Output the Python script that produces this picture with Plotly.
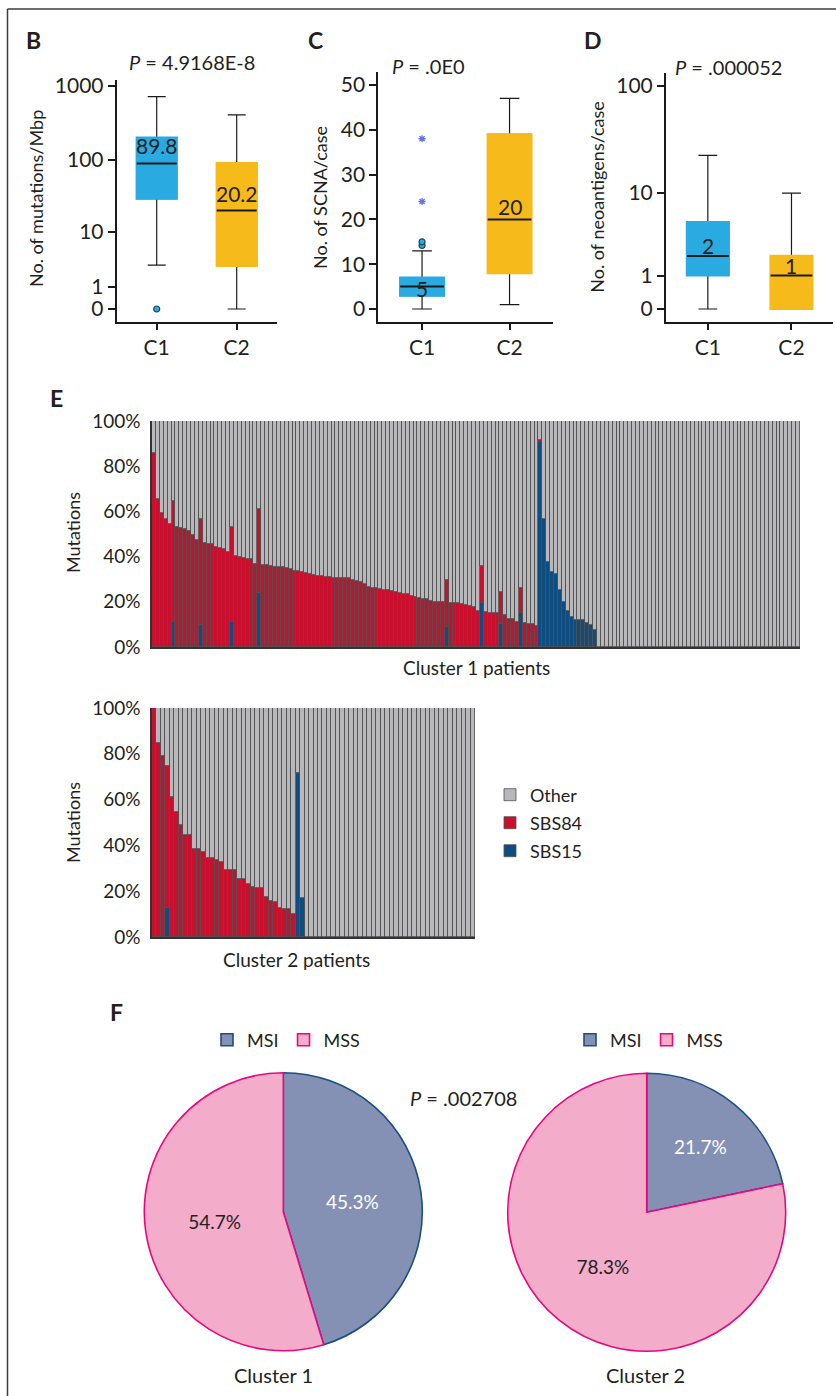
import numpy as np
import plotly.graph_objects as go

W, H = 836, 1396
FONT = "Lato"
INK = "#231f20"


def fx(p):
    return p / W


def fy(p):
    return 1 - p / H


def tf(v):
    return np.log10(np.asarray(v, dtype=float) + 1)


# ---------------- data ----------------
groups = ["C1", "C2"]
box_colors = ["#29abe2", "#f6bb1a"]

# B: mutations / Mbp
tmb_q1 = [29.5, 2.8]
tmb_median = [89.8, 20.2]
tmb_q3 = [201, 91]
tmb_low = [2.9, 0]
tmb_high = [719, 407]
tmb_outliers_c1 = [0]
tmb_ticks = [0, 1, 10, 100, 1000]

# C: SCNA / case
scna_q1 = [3, 8]
scna_median = [5, 20]
scna_q3 = [7, 39]
scna_low = [0, 1]
scna_high = [13, 47]
scna_out_circle_c1 = [14.2, 15.0]
scna_out_star_c1 = [24, 38]
scna_ticks = [0, 10, 20, 30, 40, 50]

# D: neoantigens / case
neo_q1 = [1, 0]
neo_median = [2, 1]
neo_q3 = [5.05, 2.0]
neo_low = [0, 0]
neo_high = [23, 10]
neo_ticks = [0, 1, 10, 100]

# E: signature fractions, cluster 1 (166 patients)
sbs84_c1 = [
    0.857, 0.653, 0.592, 0.565, 0.543, 0.537, 0.530, 0.528, 0.521, 0.515,
    0.496, 0.473, 0.472, 0.462, 0.457, 0.456, 0.444, 0.440, 0.435, 0.419,
    0.418, 0.403, 0.400, 0.392, 0.389, 0.388, 0.366, 0.371, 0.361, 0.361,
    0.360, 0.355, 0.352, 0.352, 0.351, 0.343, 0.338, 0.336, 0.330, 0.329,
    0.323, 0.318, 0.316, 0.316, 0.310, 0.310, 0.307, 0.304, 0.304, 0.304,
    0.304, 0.295, 0.293, 0.288, 0.280, 0.267, 0.263, 0.260, 0.255, 0.252,
    0.251, 0.248, 0.245, 0.237, 0.234, 0.233, 0.225, 0.220, 0.217, 0.214,
    0.212, 0.203, 0.200, 0.199, 0.199, 0.208, 0.195, 0.195, 0.193, 0.189,
    0.184, 0.181, 0.178, 0.158, 0.165, 0.156, 0.152, 0.152, 0.149, 0.145,
    0.140, 0.125, 0.125, 0.109, 0.111, 0.108, 0.103, 0.103, 0.094, 0.010,
] + [0.0] * 66
sbs15_c1 = (
    [0.0] * 5 + [0.109] + [0.0] * 6 + [0.096] + [0.0] * 7 + [0.112]
    + [0.0] * 6 + [0.240] + [0.0] * 47 + [0.087] + [0.0] * 8 + [0.193]
    + [0.0] * 4 + [0.100] + [0.0] * 4 + [0.149] + [0.0] * 4
    + [0.905, 0.566, 0.375, 0.332, 0.322, 0.252, 0.201, 0.159, 0.131,
       0.119, 0.118, 0.118, 0.105, 0.096, 0.075]
    + [0.0] * 52
)

# cluster 2 (72 patients)
sbs84_c2 = [
    1.000, 0.846, 0.792, 0.622, 0.613, 0.544, 0.489, 0.444, 0.444, 0.384,
    0.384, 0.373, 0.345, 0.345, 0.336, 0.326, 0.291, 0.291, 0.291, 0.252,
    0.252, 0.230, 0.220, 0.216, 0.212, 0.176, 0.157, 0.155, 0.128, 0.124,
    0.121, 0.099,
] + [0.0] * 40
sbs15_c2 = [0.0] * 3 + [0.125] + [0.0] * 28 + [0.718, 0.169] + [0.0] * 38

sig_names = ["SBS15", "SBS84", "Other"]
sig_colors = {"SBS15": "#0f4c7f", "SBS84": "#c8102e", "Other": "#b8b8bb"}

# F: MSI status
msi_labels = ["MSI", "MSS"]
msi_c1 = [45.3, 54.7]
msi_c2 = [21.7, 78.3]
msi_fill = ["#8491b4", "#f4accb"]
msi_line = ["#1a4f80", "#e6087f"]

# ---------------- figure ----------------
fig = go.Figure()
AX = dict(showgrid=False, zeroline=False, showline=True, linecolor="#1a1a1a",
          linewidth=2, ticks="outside", tickcolor="#1a1a1a", tickwidth=1.5,
          automargin=False, tickfont=dict(size=21, color=INK, family=FONT))


def add_boxes(xa, ya, q1, med, q3, lo, hi, t):
    for i, g in enumerate(groups):
        common = dict(x=[g], orientation="v", width=0.5, xaxis=xa, yaxis=ya,
                      showlegend=False, hoverinfo="skip", boxpoints=False)
        # whiskers
        fig.add_trace(go.Box(q1=[t(q1[i])], median=[t(med[i])], q3=[t(q3[i])],
                             lowerfence=[t(lo[i])], upperfence=[t(hi[i])],
                             whiskerwidth=0.45, fillcolor="rgba(0,0,0,0)",
                             line=dict(color="#1a1a1a", width=1.2), **common))
        # body
        fig.add_trace(go.Box(q1=[t(q1[i])], median=[t(q1[i])], q3=[t(q3[i])],
                             lowerfence=[t(q1[i])], upperfence=[t(q3[i])],
                             whiskerwidth=0, fillcolor=box_colors[i],
                             line=dict(color=box_colors[i], width=2.2), **common))
        # median line
        fig.add_trace(go.Box(q1=[t(med[i])], median=[t(med[i])], q3=[t(med[i])],
                             lowerfence=[t(med[i])], upperfence=[t(med[i])],
                             whiskerwidth=0, fillcolor="rgba(0,0,0,0)",
                             line=dict(color="#1a1a1a", width=2), **common))


ident = lambda v: float(v)
logt = lambda v: float(tf(v))

add_boxes("x", "y", tmb_q1, tmb_median, tmb_q3, tmb_low, tmb_high, logt)
add_boxes("x2", "y2", scna_q1, scna_median, scna_q3, scna_low, scna_high, ident)
add_boxes("x3", "y3", neo_q1, neo_median, neo_q3, neo_low, neo_high, logt)

# outliers
fig.add_trace(go.Scatter(x=["C1"] * len(tmb_outliers_c1), y=tf(tmb_outliers_c1), mode="markers",
                         marker=dict(symbol="circle", size=6, color="#29abe2",
                                     line=dict(color="#1f3f5a", width=1.2)),
                         xaxis="x", yaxis="y", showlegend=False, hoverinfo="skip"))
fig.add_trace(go.Scatter(x=["C1"] * len(scna_out_circle_c1), y=scna_out_circle_c1, mode="markers",
                         marker=dict(symbol="circle", size=6, color="#29abe2",
                                     line=dict(color="#1f3f5a", width=1.2)),
                         xaxis="x2", yaxis="y2", showlegend=False, hoverinfo="skip"))
fig.add_trace(go.Scatter(x=["C1"] * len(scna_out_star_c1), y=scna_out_star_c1, mode="markers",
                         marker=dict(symbol="asterisk-open", size=6,
                                     line=dict(color="#29abe2", width=1.3)),
                         xaxis="x2", yaxis="y2", showlegend=False, hoverinfo="skip"))

# E: stacked bars
clusters = [
    ("x4", "y4", sbs15_c1, sbs84_c1, False),
    ("x5", "y5", sbs15_c2, sbs84_c2, True),
]
leg_for = {"Other": "legend", "SBS84": "legend4", "SBS15": "legend5"}
for xa, ya, s15, s84, show in clusters:
    s15 = np.array(s15)
    s84 = np.array(s84)
    other = 1 - s15 - s84
    pats = np.arange(1, len(s15) + 1)
    for name, vals in zip(sig_names, [s15, s84, other]):
        fig.add_trace(go.Bar(x=pats, y=vals, name=name, xaxis=xa, yaxis=ya,
                             marker=dict(color=sig_colors[name],
                                         line=dict(color="#505050", width=0.8)),
                             showlegend=show, legend=leg_for[name], hoverinfo="skip"))

# F: pies
pie_specs = [
    (msi_c1, [144.3, 422.3], [1072.7, 1350.7], "legend2", "cluster1"),
    (msi_c2, [507.7, 785.7], [1073.3, 1351.3], "legend3", "cluster2"),
]
for vals, xd, yd, leg, grp in pie_specs:
    fig.add_trace(go.Pie(labels=msi_labels, values=vals, sort=False,
                         direction="clockwise", rotation=0,
                         marker=dict(colors=msi_fill, line=dict(color=msi_line, width=1.6)),
                         textinfo="percent", texttemplate="%{percent:.1%}",
                         textposition="inside", insidetextorientation="horizontal",
                         textfont=dict(size=19, color=["white", INK], family=FONT),
                         domain=dict(x=[fx(xd[0]), fx(xd[1])], y=[fy(yd[1]), fy(yd[0])]),
                         legend=leg, legendgroup=grp, hoverinfo="skip"))

# ---------------- axes ----------------
cat = dict(type="category", categoryorder="array", categoryarray=groups, range=[-0.5, 1.5], ticklen=6)
fig.update_layout(
    xaxis=dict(AX, **cat, domain=[fx(116.7), fx(276.7)], anchor="y"),
    yaxis=dict(AX, domain=[fy(321.7), fy(80)], anchor="x", range=[-0.171, 3.081],
               tickvals=tf(tmb_ticks), ticktext=[str(v) for v in tmb_ticks], ticklen=7),
    xaxis2=dict(AX, **cat, domain=[fx(378.3), fx(553.3)], anchor="y2"),
    yaxis2=dict(AX, domain=[fy(321.7), fy(71.7)], anchor="x2", range=[-2.83, 52.97],
                tickvals=scna_ticks, ticklen=7),
    xaxis3=dict(AX, **cat, domain=[fx(666), fx(833.3)], anchor="y3"),
    yaxis3=dict(AX, domain=[fy(321.7), fy(73.3)], anchor="x3", range=[-0.114, 2.118],
                tickvals=tf(neo_ticks), ticktext=[str(v) for v in neo_ticks], ticklen=7),
)
EAX_X = dict(showgrid=False, zeroline=False, showline=True, linecolor="#333333", linewidth=1.5,
             showticklabels=False, ticks="", automargin=False)
EAX_Y = dict(showgrid=False, zeroline=False, showline=True, linecolor="#333333", linewidth=1.5,
             range=[0, 1], tickvals=[0, 0.2, 0.4, 0.6, 0.8, 1.0], tickformat=".0%",
             ticks="outside", ticklen=6, tickcolor="rgba(0,0,0,0)", automargin=False,
             tickfont=dict(size=19, color=INK, family=FONT))
fig.update_layout(
    xaxis4=dict(EAX_X, domain=[fx(152), fx(800)], anchor="y4", range=[0.5, len(sbs84_c1) + 0.5]),
    yaxis4=dict(EAX_Y, domain=[fy(647), fy(421)], anchor="x4"),
    xaxis5=dict(EAX_X, domain=[fx(152), fx(475)], anchor="y5", range=[0.5, len(sbs84_c2) + 0.5]),
    yaxis5=dict(EAX_Y, domain=[fy(937), fy(708)], anchor="x5"),
    barmode="stack", bargap=0, boxmode="overlay",
)

# legends
leg_common = dict(bgcolor="rgba(0,0,0,0)", font=dict(size=18, color=INK, family=FONT),
                  xanchor="left", yanchor="middle", itemclick=False, itemdoubleclick=False)
fig.update_layout(
    legend=dict(leg_common, x=fx(490), y=fy(795)),
    legend4=dict(leg_common, x=fx(490), y=fy(823)),
    legend5=dict(leg_common, x=fx(490), y=fy(851)),
    legend2=dict(leg_common, orientation="h", traceorder="normal", x=fx(207), y=fy(1040)),
    legend3=dict(leg_common, orientation="h", traceorder="normal", x=fx(570), y=fy(1040)),
)

# ---------------- annotations ----------------
ann = []


def text(x, y, s, size=18, angle=0, **kw):
    ann.append(dict(x=fx(x), y=fy(y), xref="paper", yref="paper", text=s, showarrow=False,
                    textangle=angle, xanchor="center", yanchor="middle",
                    font=dict(size=size, color=INK, family=FONT), **kw))


for lab, (x, y) in {"B": (33, 40), "C": (315, 40), "D": (593, 40), "E": (56, 398), "F": (116, 1012)}.items():
    text(x, y, f"<b>{lab}</b>", size=23)

text(191.5, 61.7, "<i>P</i> = 4.9168E-8", size=20)
text(428.3, 65.7, "<i>P</i> = .0E0", size=20)
text(728.3, 66.7, "<i>P</i> = .000052", size=20)
text(463.3, 1098, "<i>P</i> = .002708", size=20)

text(36, 199, "No. of mutations/Mbp", angle=-90)
text(320, 198, "No. of SCNA/case", angle=-90)
text(596.7, 197, "No. of neoantigens/case", angle=-90)
text(73, 533, "Mutations", angle=-90)
text(73, 823, "Mutations", angle=-90)
text(476, 667, "Cluster 1 patients", size=19)
text(296, 960, "Cluster 2 patients", size=19)
text(273.3, 1375, "Cluster 1", size=20)
text(645.7, 1375, "Cluster 2", size=20)

# median labels on boxes
med_labels = [
    ("x", "y", tmb_median, logt, [18, 17]),
    ("x2", "y2", scna_median, ident, [-2, 13]),
    ("x3", "y3", neo_median, logt, [10, 10]),
]
for xa, ya, meds, t, shifts in med_labels:
    for i, g in enumerate(groups):
        ann.append(dict(x=g, y=t(meds[i]), xref=xa, yref=ya, text=f"{meds[i]:g}",
                        showarrow=False, yshift=shifts[i], xanchor="center", yanchor="middle",
                        font=dict(size=21, color=INK, family=FONT)))

fig.update_layout(annotations=ann)

# frame lines (top and left border of the figure panel)
fig.update_layout(shapes=[
    dict(type="line", xref="paper", yref="paper", x0=fx(7.5), x1=1.0, y0=fy(9), y1=fy(9),
         line=dict(color="#3c3c3c", width=1.5)),
    dict(type="line", xref="paper", yref="paper", x0=fx(7.5), x1=fx(7.5), y0=fy(9), y1=0,
         line=dict(color="#3c3c3c", width=1.5)),
])

fig.update_layout(width=W, height=H, margin=dict(l=0, r=0, t=0, b=0, pad=0),
                  paper_bgcolor="white", plot_bgcolor="white",
                  font=dict(family=FONT, color=INK, size=18))

fig.write_html("out.html", config={"displayModeBar": False},
               post_script="document.body.style.margin='0';document.body.style.overflow='hidden';")
